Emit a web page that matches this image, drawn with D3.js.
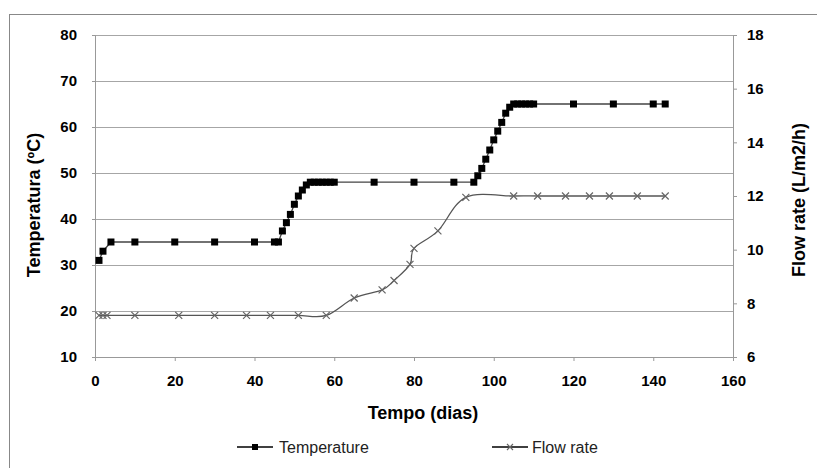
<!DOCTYPE html>
<html>
<head>
<meta charset="utf-8">
<script src="https://cdn.jsdelivr.net/npm/d3@7"></script>
<style>
  body { margin: 0; background: #fff; }
  svg { font-family: "Liberation Sans", Arial, sans-serif; }
  .tick text { font-size: 15px; font-weight: bold; fill: #000; }
  .axisTitle { font-size: 18px; font-weight: bold; fill: #000; }
  .legendText { font-size: 16px; fill: #222; }
</style>
</head>
<body>
<div id="chart"></div>
<script>
// data
var tempDays = [1, 2, 4, 10, 20, 30, 40, 45, 46, 47, 48, 49, 50, 51, 52, 53,
                54, 55, 56, 57, 58, 59, 60, 70, 80, 90, 95,
                96, 97, 98, 99, 100, 101, 102, 103, 104,
                105, 106, 107, 108, 109, 110, 120, 130, 140, 143];
var tempValues = [31, 33, 35, 35, 35, 35, 35, 35, 35, 37.4, 39.2, 41, 43.2, 45, 46.3, 47.4,
                  48, 48, 48, 48, 48, 48, 48, 48, 48, 48, 48,
                  49.4, 51, 53, 55, 57.2, 59.1, 61, 63, 64.3,
                  65, 65, 65, 65, 65, 65, 65, 65, 65, 65];

var flowDays = [1, 2, 3, 10, 21, 30, 38, 44, 51, 58, 65, 72, 75, 79, 80, 86, 93,
                105, 111, 118, 124, 129, 136, 143];
var flowValues = [7.55, 7.55, 7.55, 7.55, 7.55, 7.55, 7.55, 7.55, 7.55, 7.55,
                  8.2, 8.5, 8.85, 9.45, 10.05, 10.7, 11.95,
                  12, 12, 12, 12, 12, 12, 12];

var xTicks = [0, 20, 40, 60, 80, 100, 120, 140, 160];
var leftTicks = [10, 20, 30, 40, 50, 60, 70, 80];
var rightTicks = [6, 8, 10, 12, 14, 16, 18];

var width = 817, height = 468;
var margin = {top: 35, right: 83, bottom: 111, left: 95};

var svg = d3.select("#chart")
  .append("svg")
    .attr("width", width)
    .attr("height", height);

// outer chart frame (right/bottom edges fall outside the picture)
svg.append("rect")
  .attr("x", 9.5).attr("y", 14.5)
  .attr("width", 820).attr("height", 470)
  .attr("fill", "none")
  .attr("stroke", "#888");

var x = d3.scaleLinear().domain([0, 160]).range([margin.left, width - margin.right - 1]);
var yL = d3.scaleLinear().domain([10, 80]).range([height - margin.bottom, margin.top]);
var yR = d3.scaleLinear().domain([6, 18]).range([height - margin.bottom, margin.top]);

// gridlines
svg.append("g")
  .selectAll("line")
  .data(leftTicks)
  .enter()
  .append("line")
    .attr("x1", x(0)).attr("x2", x(160))
    .attr("y1", d => Math.round(yL(d)) + 0.5)
    .attr("y2", d => Math.round(yL(d)) + 0.5)
    .attr("stroke", "#a6a6a6");

var xAxis = d3.axisBottom(x).tickValues(xTicks).tickSize(4).tickPadding(14).tickFormat(d3.format("d"));
var yAxisL = d3.axisLeft(yL).tickValues(leftTicks).tickSize(3).tickPadding(15);
var yAxisR = d3.axisRight(yR).tickValues(rightTicks).tickSize(4).tickPadding(10);

function styleAxis(g) {
  g.select(".domain").attr("stroke", "#999");
  g.selectAll(".tick line").attr("stroke", "#999");
}

svg.append("g")
  .attr("transform", "translate(0," + yL(10) + ")")
  .call(xAxis).call(styleAxis);

svg.append("g")
  .attr("transform", "translate(" + x(0) + ",0)")
  .call(yAxisL).call(styleAxis);

svg.append("g")
  .attr("transform", "translate(" + x(160) + ",0)")
  .call(yAxisR).call(styleAxis);

// axis titles
svg.append("text")
  .attr("class", "axisTitle")
  .attr("x", 423).attr("y", 419)
  .attr("text-anchor", "middle")
  .text("Tempo (dias)");

svg.append("text")
  .attr("class", "axisTitle")
  .attr("transform", "translate(40,205) rotate(-90)")
  .attr("text-anchor", "middle")
  .text("Temperatura (ºC)");

svg.append("text")
  .attr("class", "axisTitle")
  .attr("transform", "translate(805,200) rotate(-90)")
  .attr("text-anchor", "middle")
  .text("Flow rate (L/m2/h)");

// temperature series
var tempData = tempDays.map((d, i) => ({day: d, value: tempValues[i]}));
var flowData = flowDays.map((d, i) => ({day: d, value: flowValues[i]}));

var tempLine = d3.line()
  .x(d => x(d.day))
  .y(d => yL(d.value));

var flowLine = d3.line()
  .curve(d3.curveCardinal.tension(0))
  .x(d => x(d.day))
  .y(d => yR(d.value));

svg.append("path")
  .datum(flowData)
  .attr("d", flowLine)
  .attr("fill", "none")
  .attr("stroke", "#555")
  .attr("stroke-width", 1.3);

svg.append("path")
  .datum(tempData)
  .attr("d", tempLine)
  .attr("fill", "none")
  .attr("stroke", "#444")
  .attr("stroke-width", 1.3);

var xMark = function(sel, s) {
  sel.append("path")
    .attr("d", "M" + (-s) + "," + (-s) + "L" + s + "," + s + "M" + (-s) + "," + s + "L" + s + "," + (-s))
    .attr("stroke", "#666")
    .attr("stroke-width", 1.2)
    .attr("fill", "none");
};

svg.append("g")
  .selectAll("g")
  .data(flowData)
  .enter()
  .append("g")
    .attr("transform", d => "translate(" + x(d.day) + "," + yR(d.value) + ")")
    .call(xMark, 3.5);

svg.append("g")
  .selectAll("rect")
  .data(tempData)
  .enter()
  .append("rect")
    .attr("x", d => x(d.day) - 3.5)
    .attr("y", d => yL(d.value) - 3.5)
    .attr("width", 7)
    .attr("height", 7)
    .attr("fill", "#000");

// legend
var legY = 447;
svg.append("line")
  .attr("x1", 237).attr("x2", 273).attr("y1", legY).attr("y2", legY)
  .attr("stroke", "#000").attr("stroke-width", 1.3);
svg.append("rect")
  .attr("x", 252).attr("y", legY - 3).attr("width", 6).attr("height", 6)
  .attr("fill", "#000");
svg.append("text")
  .attr("class", "legendText")
  .attr("x", 279).attr("y", legY + 6)
  .text("Temperature");

svg.append("line")
  .attr("x1", 492).attr("x2", 528).attr("y1", legY).attr("y2", legY)
  .attr("stroke", "#000").attr("stroke-width", 1.3);
svg.append("g")
  .attr("transform", "translate(510," + legY + ")")
  .call(xMark, 3);
svg.append("text")
  .attr("class", "legendText")
  .attr("x", 532).attr("y", legY + 6)
  .text("Flow rate");
</script>
</body>
</html>
